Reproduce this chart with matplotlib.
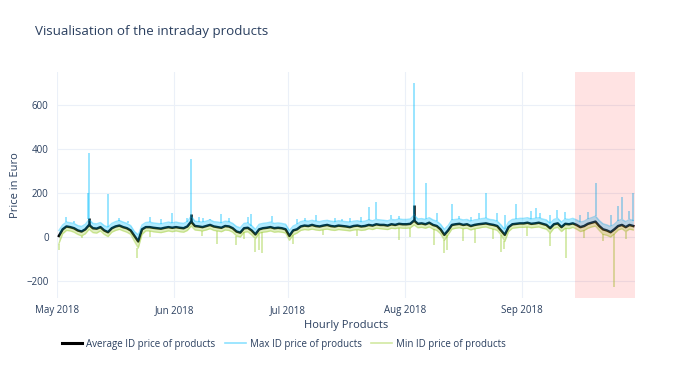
import matplotlib
matplotlib.use('Agg')
import matplotlib.pyplot as plt
from matplotlib.lines import Line2D
import numpy as np
import pandas as pd

plt.rcParams['font.family'] = ['Open Sans', 'DejaVu Sans']
TXT = '#2a3f5f'
GRID = '#EBF0F8'

# daily values, 1 May 2018 .. 30 Sep 2018
avg_price = [
    # May
    5, 35, 48, 45, 40, 30, 25, 35, 55, 40, 38, 45, 30, 22, 40, 48, 52, 45, 40, 30,
    5, -20, 35, 45, 45, 42, 40, 38, 42, 45, 42,
    # Jun
    45, 42, 40, 48, 70, 50, 48, 45, 50, 55, 48, 45, 42, 50, 48, 40, 25, 20, 40, 42,
    30, 12, 35, 40, 42, 45, 40, 42, 40, 35,
    # Jul
    5, 30, 35, 48, 52, 50, 55, 50, 48, 52, 55, 50, 48, 52, 50, 48, 45, 50, 52, 48,
    50, 55, 52, 58, 55, 55, 52, 58, 55, 60, 58,
    # Aug
    58, 60, 75, 60, 62, 58, 65, 55, 50, 35, 10, 30, 55, 58, 60, 55, 58, 50, 55, 58,
    60, 62, 58, 55, 50, 30, 10, 45, 58, 60, 62,
    # Sep
    62, 65, 60, 62, 65, 60, 55, 40, 58, 62, 45, 60, 58, 62, 55, 45, 50, 60, 65, 70,
    50, 35, 30, 22, 35, 50, 55, 45, 55, 50,
]
max_price = [
    30, 55, 68, 65, 62, 52, 48, 58, 80, 62, 60, 66, 52, 45, 62, 70, 75, 68, 62, 52,
    25, 10, 55, 66, 68, 64, 62, 60, 64, 68, 64,
    68, 64, 62, 70, 95, 72, 70, 68, 72, 78, 70, 68, 65, 72, 70, 62, 48, 42, 62, 64,
    52, 35, 58, 62, 64, 68, 62, 64, 62, 58,
    30, 50, 58, 70, 74, 72, 76, 72, 70, 74, 76, 72, 70, 74, 72, 70, 68, 72, 74, 70,
    72, 78, 74, 80, 78, 76, 74, 80, 78, 82, 80,
    80, 82, 100, 82, 84, 80, 88, 78, 72, 58, 35, 52, 78, 80, 82, 78, 80, 72, 78, 80,
    84, 86, 80, 78, 72, 55, 35, 68, 80, 82, 85,
    85, 88, 82, 85, 88, 82, 78, 62, 80, 85, 68, 82, 80, 85, 78, 68, 72, 82, 88, 95,
    75, 60, 55, 48, 58, 75, 80, 70, 80, 75,
]
min_price = [
    -30, 15, 30, 28, 22, 12, 5, 15, 35, 20, 18, 28, 12, 2, 22, 30, 35, 28, 22, 12,
    -20, -50, 12, 28, 28, 24, 22, 20, 24, 28, 24,
    28, 24, 22, 30, 50, 32, 30, 28, 32, 38, 30, 28, 24, 32, 30, 22, 5, 0, 22, 24,
    10, -8, 18, 22, 24, 28, 22, 24, 22, 18,
    -15, 10, 18, 30, 34, 32, 36, 32, 30, 34, 36, 32, 30, 34, 32, 30, 28, 32, 34, 30,
    32, 38, 34, 40, 38, 36, 34, 40, 38, 42, 40,
    40, 42, 55, 42, 44, 40, 46, 36, 30, 15, -15, 10, 36, 40, 42, 38, 40, 32, 38, 40,
    44, 46, 40, 36, 30, 10, -20, 25, 40, 42, 44,
    44, 46, 42, 44, 46, 40, 36, 18, 40, 44, 25, 40, 38, 44, 36, 25, 30, 40, 46, 50,
    30, 12, 8, 0, 15, 32, 38, 25, 36, 32,
]

# single-hour spikes
avg_spike_times = ['2018-05-09 12:00', '2018-06-05 14:00', '2018-08-03 14:00']
avg_spike_vals = [86, 105, 145]

max_spike_times = [
    '2018-05-03 10:00', '2018-05-05 12:00', '2018-05-09 06:00', '2018-05-09 12:00',
    '2018-05-14 12:00', '2018-05-17 12:00', '2018-05-19 18:00', '2018-05-25 12:00',
    '2018-05-28 12:00', '2018-05-31 12:00', '2018-06-04 12:00', '2018-06-05 14:00',
    '2018-06-07 12:00', '2018-06-08 18:00', '2018-06-10 12:00', '2018-06-13 12:00',
    '2018-06-15 12:00', '2018-06-20 12:00', '2018-06-21 10:00', '2018-06-26 19:00',
    '2018-07-03 12:00', '2018-07-05 18:00', '2018-07-08 12:00', '2018-07-13 12:00',
    '2018-07-15 12:00', '2018-07-17 12:00', '2018-07-20 12:00', '2018-07-22 16:00',
    '2018-07-24 12:00', '2018-07-28 12:00', '2018-07-30 12:00', '2018-08-03 14:00',
    '2018-08-06 17:00', '2018-08-09 12:00', '2018-08-13 12:00', '2018-08-15 12:00',
    '2018-08-18 12:00', '2018-08-20 14:00', '2018-08-22 12:00', '2018-08-25 12:00',
    '2018-08-27 12:00', '2018-08-30 12:00', '2018-09-03 12:00', '2018-09-04 17:00',
    '2018-09-05 18:00', '2018-09-08 12:00', '2018-09-10 06:00', '2018-09-12 10:00',
    '2018-09-16 12:00', '2018-09-18 12:00', '2018-09-20 17:00', '2018-09-24 12:00',
    '2018-09-26 12:00', '2018-09-27 14:00', '2018-09-29 12:00', '2018-09-30 08:00',
]
max_spike_vals = [
    90, 75, 200, 383, 195, 85, 75, 90, 80, 110, 85, 355, 90, 85, 80, 105, 85, 90, 105,
    95, 80, 85, 100, 85, 80, 85, 90, 137, 160, 100, 95, 700, 247, 110, 150, 95, 90,
    110, 198, 110, 100, 150, 120, 130, 110, 100, 125, 115, 100, 115, 247, 100, 140,
    183, 120, 198,
]

min_spike_times = [
    '2018-05-01 14:00', '2018-05-07 12:00', '2018-05-22 02:00', '2018-05-25 12:00',
    '2018-06-08 12:00', '2018-06-12 10:00', '2018-06-17 12:00', '2018-06-19 12:00',
    '2018-06-22 10:00', '2018-06-23 12:00', '2018-06-24 08:00', '2018-07-02 14:00',
    '2018-07-10 12:00', '2018-07-19 12:00', '2018-07-30 12:00', '2018-08-02 12:00',
    '2018-08-08 18:00', '2018-08-11 12:00', '2018-08-12 06:00', '2018-08-16 12:00',
    '2018-08-19 12:00', '2018-08-24 12:00', '2018-08-26 12:00', '2018-08-27 10:00',
    '2018-09-02 12:00', '2018-09-08 10:00', '2018-09-12 18:00', '2018-09-17 12:00',
    '2018-09-22 12:00', '2018-09-25 08:00', '2018-09-28 12:00',
]
min_spike_vals = [
    -60, -5, -95, 0, 5, -32, -35, -10, -70, -60, -71, -33, 10, 5, -14, 0, -35, -71,
    -60, -20, -25, -10, -68, -55, 5, -40, -95, -5, -20, -225, -10,
]

month_ticks = ['2018-05-01', '2018-06-01', '2018-07-01', '2018-08-01', '2018-09-01']
month_labels = ['May 2018', 'Jun 2018', 'Jul 2018', 'Aug 2018', 'Sep 2018']
y_ticks = [-200, 0, 200, 400, 600]

days = pd.date_range('2018-05-01 12:00', periods=len(avg_price), freq='D')
avg = np.array(avg_price, dtype=float)
mx = np.array(max_price, dtype=float)
mn = np.array(min_price, dtype=float)


def base_at(times, series):
    idx = [(pd.Timestamp(t).normalize() - pd.Timestamp('2018-05-01')).days for t in times]
    return series[idx]


fig = plt.figure(figsize=(6.94, 3.65), dpi=100)
ax = fig.add_axes([57 / 694, 1 - 298 / 365, (635 - 57) / 694, (298 - 72) / 365])

blue = '#00bfff'
green = '#9acd32'

# average
ax.plot(days, avg, color='black', lw=1.8, zorder=2)
ax.vlines(pd.to_datetime(avg_spike_times), base_at(avg_spike_times, avg),
          avg_spike_vals, color='black', lw=1.8, zorder=2)

# max
ax.fill_between(days, avg, mx, color=blue, alpha=0.3, lw=0, zorder=3)
ax.plot(days, mx, color=blue, lw=1.0, alpha=0.4, zorder=3)
ax.vlines(pd.to_datetime(max_spike_times), base_at(max_spike_times, mx),
          max_spike_vals, color=blue, lw=1.4, alpha=0.4, zorder=3)

# min
ax.fill_between(days, mn, avg, color=green, alpha=0.3, lw=0, zorder=4)
ax.plot(days, mn, color=green, lw=1.0, alpha=0.4, zorder=4)
ax.vlines(pd.to_datetime(min_spike_times), min_spike_vals,
          base_at(min_spike_times, mn), color=green, lw=1.4, alpha=0.4, zorder=4)

# highlighted period
ax.axvspan(pd.Timestamp('2018-09-15'), pd.Timestamp('2018-09-30 23:00'),
           color='red', alpha=0.11, lw=0, zorder=6)

ax.set_xlim(pd.Timestamp('2018-05-01'), pd.Timestamp('2018-09-30 23:00'))
ax.set_ylim(-277, 750)
ax.set_xticks(pd.to_datetime(month_ticks))
ax.set_xticklabels(month_labels)
ax.set_yticks(y_ticks)
ax.tick_params(length=0, labelsize=7, colors=TXT)
ax.tick_params(axis='x', pad=5)
ax.tick_params(axis='y', pad=6)
ax.grid(True, color=GRID, lw=0.8, zorder=0)
ax.set_axisbelow(True)
for s in ax.spines.values():
    s.set_visible(False)

ax.set_ylabel('Price in Euro', fontsize=8, color=TXT, labelpad=4)
ax.set_xlabel('Hourly Products', fontsize=8, color=TXT, labelpad=3)
fig.text(35 / 694, 1 - 32 / 365, 'Visualisation of the intraday products',
         fontsize=9.6, color=TXT, va='center', ha='left')

handles = [
    Line2D([], [], color='black', lw=2.2),
    Line2D([], [], color=blue, lw=1.2, alpha=0.45),
    Line2D([], [], color=green, lw=1.2, alpha=0.45),
]
labels = ['Average ID price of products', 'Max ID price of products',
          'Min ID price of products']
leg = fig.legend(handles, labels, loc='center left', ncol=3,
                 bbox_to_anchor=(62 / 694, 1 - 344 / 365), frameon=False,
                 fontsize=7, handlelength=2.1, handletextpad=0.4,
                 columnspacing=1.0, borderaxespad=0, borderpad=0)
for t in leg.get_texts():
    t.set_color(TXT)

fig.savefig('out.png', dpi=100)
